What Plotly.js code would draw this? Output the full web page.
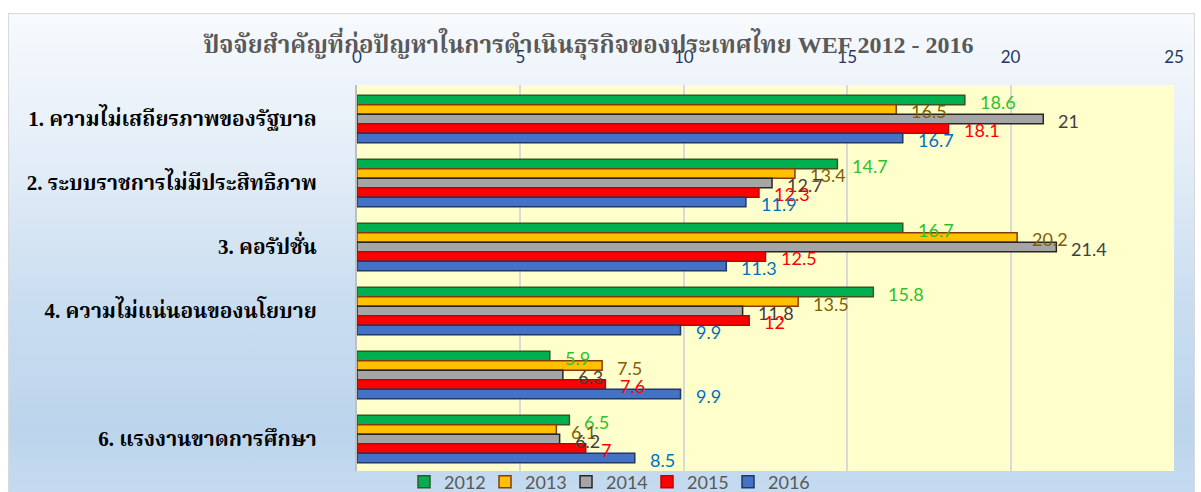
<!DOCTYPE html>
<html>
<head>
<meta charset="utf-8">
<script src="https://cdn.plot.ly/plotly-3.0.1.min.js"></script>
<style>
  html, body { margin: 0; padding: 0; background: #ffffff; }
  #frame { position: absolute; left: 8px; top: 13px; width: 1187px; height: 490px;
    border: 1px solid #D9D9D9; box-sizing: border-box;
    background: linear-gradient(to bottom, #F7FAFD 0%, #E3EDF7 30%, #C9DDF0 60%, #BCD5EC 85%, #C6DBF0 100%); }
  #chart { position: absolute; left: 0; top: 0; width: 1201px; height: 492px; }
</style>
</head>
<body>
<div id="frame"></div>
<div id="chart"></div>
<script>
const categories = [
  "1. ความไม่เสถียรภาพของรัฐบาล",
  "2. ระบบราชการไม่มีประสิทธิภาพ",
  "3. คอรัปชั่น",
  "4. ความไม่แน่นอนของนโยบาย",
  " ",
  "6. แรงงานขาดการศึกษา"
];
const years = ["2012", "2013", "2014", "2015", "2016"];
const v2012 = [18.6, 14.7, 16.7, 15.8, 5.9, 6.5];
const v2013 = [16.5, 13.4, 20.2, 13.5, 7.5, 6.1];
const v2014 = [21, 12.7, 21.4, 11.8, 6.3, 6.2];
const v2015 = [18.1, 12.3, 12.5, 12, 7.6, 7];
const v2016 = [16.7, 11.9, 11.3, 9.9, 9.9, 8.5];
const xTicks = [0, 5, 10, 15, 20, 25];

const series = [v2012, v2013, v2014, v2015, v2016];
const fills = ["#00B050", "#FFC000", "#A5A5A5", "#FF0000", "#4472C4"];
const outlines = ["#375623", "#843C0C", "#262626", "#C00000", "#1F3864"];
const labelColors = ["#2EC12E", "#7F6000", "#404040", "#FF0000", "#0070C0"];

const bargap = 0.26;
const traces = series.map((vals, i) => ({
  type: "bar",
  orientation: "h",
  name: years[i],
  x: vals,
  y: categories,
  marker: { color: fills[i], line: { color: outlines[i], width: 1.5 } },
  hoverinfo: "x+name"
}));

const nS = series.length;
const barW = (1 - bargap) / nS;
const annotations = [];
series.forEach((vals, i) => {
  vals.forEach((v, j) => {
    annotations.push({
      x: v, y: j - (1 - bargap) / 2 + barW * (i + 0.5),
      xref: "x", yref: "y",
      text: String(v), showarrow: false,
      xanchor: "left", yanchor: "middle",
      xshift: 13, yshift: -2,
      font: { family: "Lato, 'Noto Sans', sans-serif", size: 18, color: labelColors[i] }
    });
  });
});

const layout = {
  width: 1201, height: 492,
  margin: { l: 357, r: 27, t: 85, b: 21, autoexpand: false },
  paper_bgcolor: "rgba(0,0,0,0)",
  plot_bgcolor: "#FFFFCC",
  barmode: "group",
  bargap: bargap,
  bargroupgap: 0,
  title: {
    text: "ปัจจัยสำคัญที่ก่อปัญหาในการดำเนินธุรกิจของประเทศไทย WEF 2012 - 2016",
    x: 0.49, xanchor: "center", y: 0.91, yanchor: "middle",
    font: { family: "'Liberation Serif', 'Noto Serif Thai', serif", size: 24, color: "#595959", weight: "bold" }
  },
  xaxis: {
    side: "top", range: [0, 25], tickvals: xTicks, ticktext: xTicks.map(String),
    showgrid: true, gridcolor: "#D9D9D9", gridwidth: 2, zeroline: false,
    showline: false, ticks: "", ticklabelstandoff: 18,
    tickfont: { family: "Lato, 'Noto Sans', sans-serif", size: 17, color: "#1F3864" },
    fixedrange: true
  },
  yaxis: {
    type: "category", autorange: "reversed",
    showline: true, linecolor: "#BFBFBF", linewidth: 2,
    showgrid: false, ticks: "", ticklabelstandoff: 34,
    tickfont: { family: "'Liberation Serif', 'Noto Serif Thai', serif", size: 21, color: "#000000", weight: "bold" },
    fixedrange: true
  },
  showlegend: true,
  legend: {
    orientation: "h", xref: "container", x: 0.505, xanchor: "center",
    yref: "container", y: 0.02, yanchor: "middle",
    bgcolor: "rgba(0,0,0,0)",
    font: { family: "Lato, 'Noto Sans', sans-serif", size: 18, color: "#595959" },
    itemwidth: 30, entrywidth: 36, entrywidthmode: "pixels", tracegroupgap: 0
  },
  annotations: annotations
};

Plotly.newPlot("chart", traces, layout, { displayModeBar: false, staticPlot: true });
</script>
</body>
</html>
